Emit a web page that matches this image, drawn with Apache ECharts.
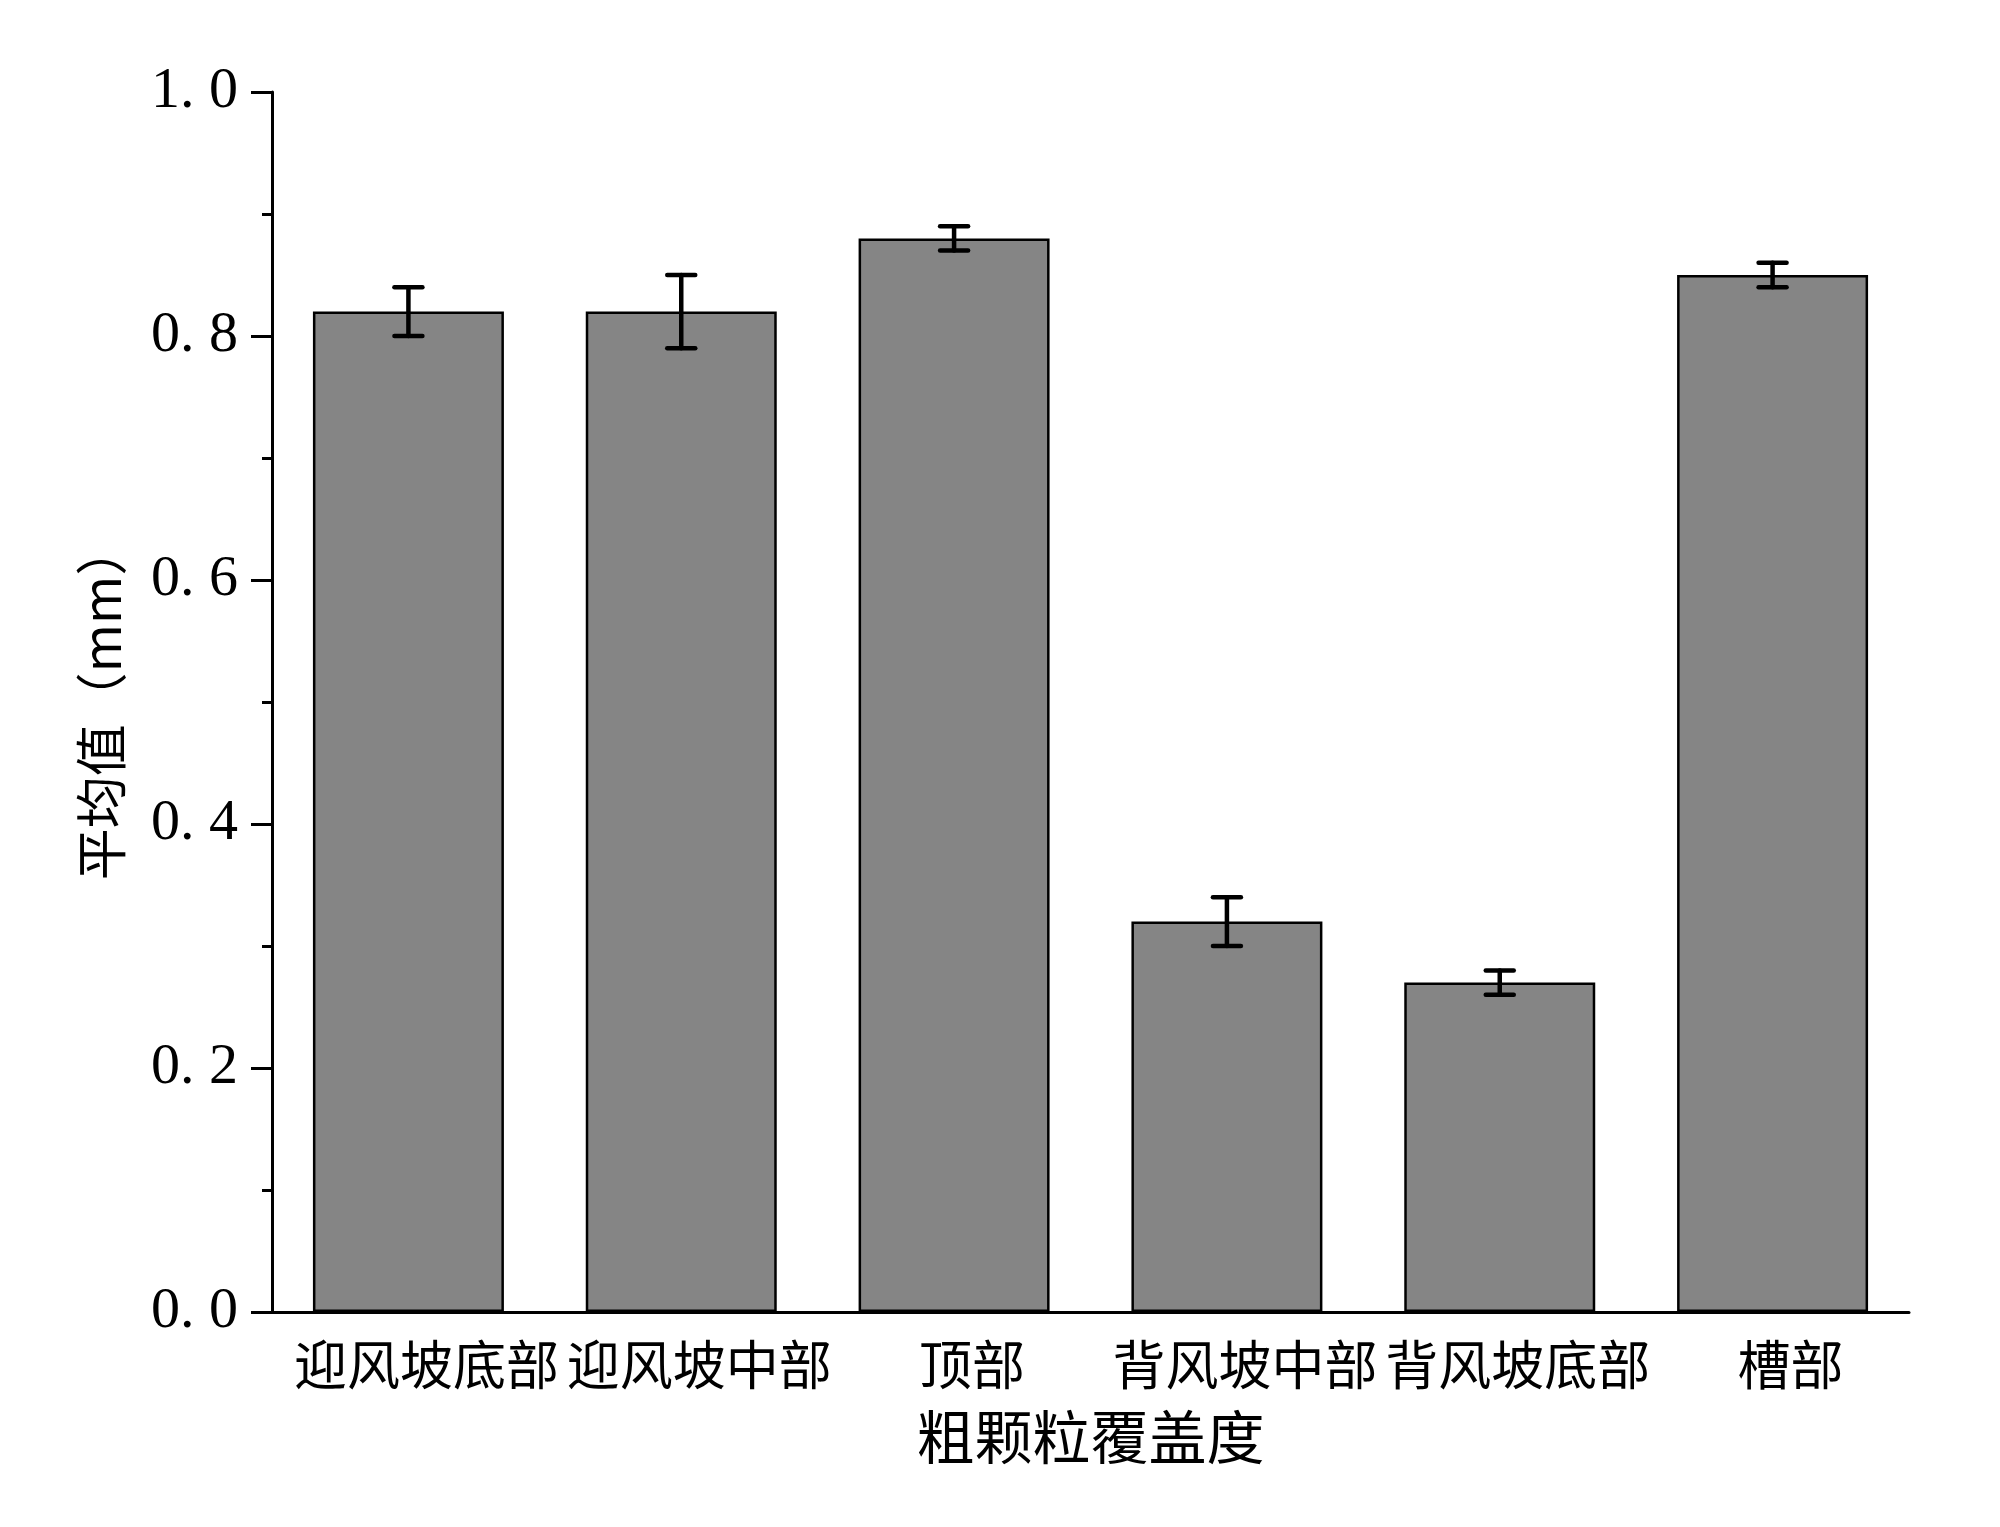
<!DOCTYPE html>
<html>
<head>
<meta charset="utf-8">
<script src="https://cdn.jsdelivr.net/npm/echarts@6/dist/echarts.min.js"></script>
<style>
  html, body { margin: 0; padding: 0; background: #fff; }
  #chart { width: 2000px; height: 1527px; }
</style>
</head>
<body>
<div id="chart"></div>
<script>
const categories = ['迎风坡底部', '迎风坡中部', '顶部', '背风坡中部', '背风坡底部', '槽部']
const means = [0.82, 0.82, 0.88, 0.32, 0.27, 0.85]
const errors = [0.02, 0.03, 0.01, 0.02, 0.01, 0.01]

const cjk = '"Noto Sans CJK SC", sans-serif'
const num = '"Liberation Serif", "DejaVu Serif", serif'

const chart = echarts.init(document.getElementById('chart'), null, { renderer: 'canvas' })

const errData = means.map((m, i) => [i, m - errors[i], m + errors[i]])

chart.setOption({
  backgroundColor: '#fff',
  animation: false,
  grid: { left: 272, right: 91, top: 92, bottom: 215 },
  xAxis: {
    type: 'category',
    data: categories,
    name: '粗颗粒覆盖度',
    nameLocation: 'middle',
    nameGap: 96,
    nameTextStyle: { fontFamily: cjk, fontSize: 58, color: '#000' },
    axisLine: { lineStyle: { color: '#000', width: 3 } },
    axisTick: { show: false },
    axisLabel: {
      fontFamily: cjk, fontSize: 53, color: '#000', margin: 26, interval: 0,
      padding: [0, 0, 0, 36]
    },
    splitLine: { show: false }
  },
  yAxis: {
    type: 'value',
    min: 0, max: 1.0, interval: 0.2,
    name: '平均值（mm）',
    nameLocation: 'middle',
    nameRotate: 90,
    nameGap: 145,
    nameTextStyle: { fontFamily: cjk, fontSize: 52, color: '#000' },
    axisLine: { show: true, lineStyle: { color: '#000', width: 3 } },
    axisTick: { show: true, inside: false, length: 21, lineStyle: { color: '#000', width: 3 } },
    minorTick: { show: true, splitNumber: 2, length: 10, lineStyle: { color: '#000', width: 3 } },
    axisLabel: {
      fontFamily: num, fontSize: 58, color: '#000', margin: 34,
      formatter: v => v.toFixed(1).replace('.', '. ')
    },
    splitLine: { show: false }
  },
  series: [
    {
      type: 'bar',
      data: means,
      barWidth: '70%',
      itemStyle: { color: '#858585', borderColor: '#000', borderWidth: 2.5 }
    },
    {
      type: 'custom',
      data: errData,
      z: 10,
      renderItem(params, api) {
        const x = api.value(0)
        const lo = api.coord([x, api.value(1)])
        const hi = api.coord([x, api.value(2)])
        const half = 14
        const style = { stroke: '#000', lineWidth: 4.5, lineCap: 'round' }
        return {
          type: 'group',
          children: [
            { type: 'line', shape: { x1: lo[0], y1: lo[1], x2: hi[0], y2: hi[1] }, style },
            { type: 'line', shape: { x1: hi[0] - half, y1: hi[1], x2: hi[0] + half, y2: hi[1] }, style },
            { type: 'line', shape: { x1: lo[0] - half, y1: lo[1], x2: lo[0] + half, y2: lo[1] }, style }
          ]
        }
      }
    }
  ]
})
</script>
</body>
</html>
